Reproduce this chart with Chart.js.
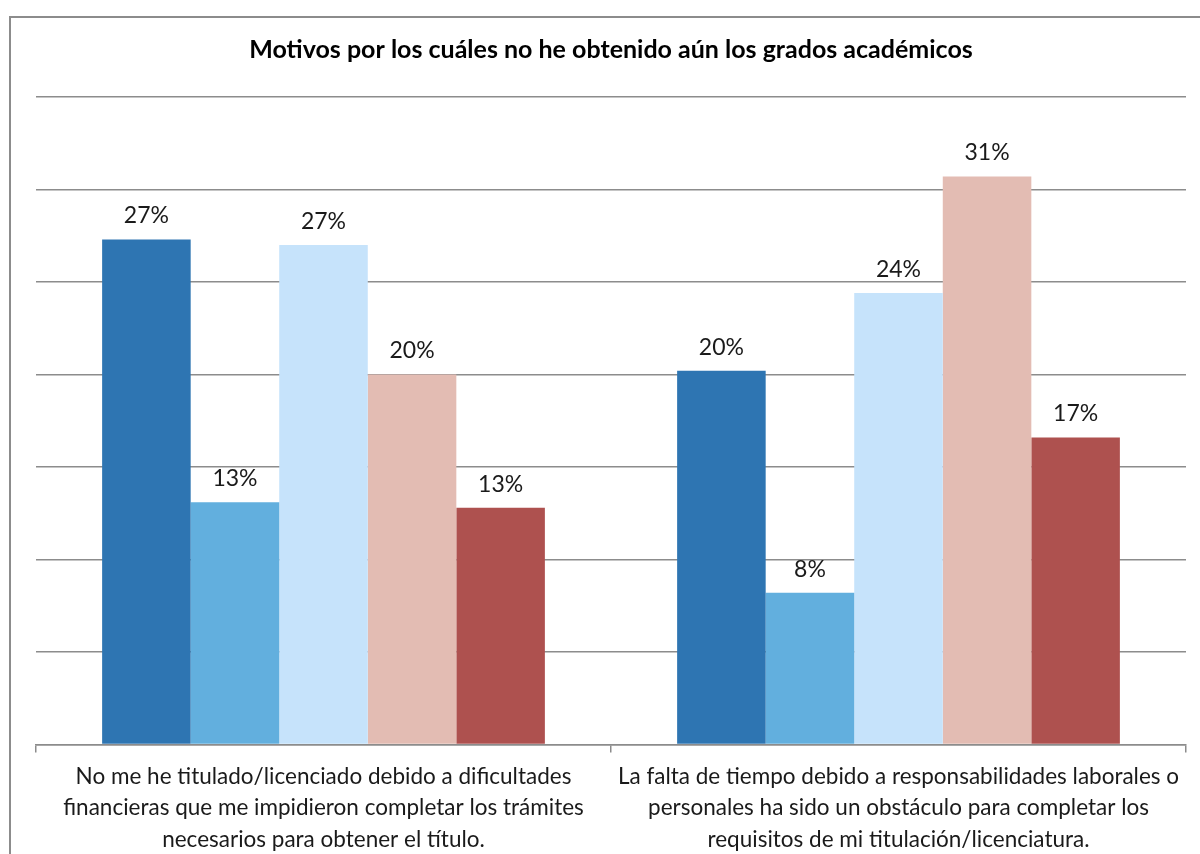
<!DOCTYPE html>
<html lang="es">
<head>
<meta charset="utf-8">
<title>Motivos por los cuáles no he obtenido aún los grados académicos</title>
<script src="https://cdn.jsdelivr.net/npm/chart.js@4/dist/chart.umd.min.js"></script>
<style>
    html, body { margin: 0; padding: 0; background: #fff; }
    #wrap { position: relative; width: 1200px; height: 854px; }
</style>
</head>
<body>
<div id="wrap"><canvas id="motivosChart"></canvas></div>
<script>
// Categories (one line per array entry)
const categories = [
    ['No me he titulado/licenciado debido a dificultades',
     'financieras que me impidieron completar los trámites',
     'necesarios para obtener el título.'],
    ['La falta de tiempo debido a responsabilidades laborales o',
     'personales ha sido un obstáculo para completar los',
     'requisitos de mi titulación/licenciatura.']
];

// Series (percentages)
const seriesNames = ['Serie 1', 'Serie 2', 'Serie 3', 'Serie 4', 'Serie 5'];
const serie1 = [27.3, 20.2];
const serie2 = [13.1, 8.2];
const serie3 = [27.0, 24.4];
const serie4 = [20.0, 30.7];
const serie5 = [12.8, 16.6];
const seriesColors = ['#2E75B2', '#62AFDE', '#C6E3FB', '#E3BCB3', '#AE514F'];

// Axis
const yMax = 35;
const yStep = 5;

const allSeries = [serie1, serie2, serie3, serie4, serie5];

document.addEventListener('DOMContentLoaded', function() {
    // Outer frame of the chart
    const framePlugin = {
        id: 'frame',
        beforeDraw(chart) {
            const ctx = chart.ctx;
            ctx.save();
            ctx.fillStyle = '#ffffff';
            ctx.fillRect(0, 0, chart.width, chart.height);
            ctx.strokeStyle = '#8c8c8c';
            ctx.lineWidth = 2;
            ctx.strokeRect(10, 17, chart.width + 20, chart.height + 20);
            ctx.restore();
        }
    };

    // Percent labels above each bar
    const valueLabels = {
        id: 'valueLabels',
        afterDatasetsDraw(chart) {
            const ctx = chart.ctx;
            ctx.save();
            ctx.font = '23px Lato, "Open Sans", sans-serif';
            ctx.fillStyle = '#1a1a1a';
            ctx.textAlign = 'center';
            ctx.textBaseline = 'bottom';
            chart.data.datasets.forEach((ds, i) => {
                chart.getDatasetMeta(i).data.forEach((bar, j) => {
                    ctx.fillText(Math.round(ds.data[j]) + '%', bar.x, bar.y - 12);
                });
            });
            ctx.restore();
        }
    };

    const ctx = document.getElementById('motivosChart').getContext('2d');
    new Chart(ctx, {
        type: 'bar',
        data: {
            labels: categories,
            datasets: allSeries.map((values, i) => ({
                label: seriesNames[i],
                data: values,
                backgroundColor: seriesColors[i],
                borderWidth: 0,
                barPercentage: 1,
                categoryPercentage: 0.77
            }))
        },
        options: {
            responsive: true,
            maintainAspectRatio: false,
            animation: false,
            layout: {
                padding: { top: 16, left: 36, right: 14, bottom: -9 }
            },
            plugins: {
                legend: { display: false },
                tooltip: { enabled: false },
                title: {
                    display: true,
                    text: 'Motivos por los cuáles no he obtenido aún los grados académicos',
                    color: '#000000',
                    font: { family: 'Lato, "Open Sans", sans-serif', size: 25, weight: 'bold' },
                    padding: { top: 19, bottom: 32 }
                }
            },
            scales: {
                y: {
                    min: 0,
                    max: yMax,
                    ticks: { display: false, stepSize: yStep },
                    border: { display: false },
                    grid: {
                        color: '#8c8c8c',
                        lineWidth: 1.5,
                        drawTicks: false
                    }
                },
                x: {
                    border: { display: true, color: '#8c8c8c', width: 1.5 },
                    grid: {
                        offset: true,
                        drawOnChartArea: false,
                        drawTicks: true,
                        tickLength: 8,
                        color: '#8c8c8c',
                        lineWidth: 1.5
                    },
                    ticks: {
                        color: '#1a1a1a',
                        padding: 8,
                        maxRotation: 0,
                        autoSkip: false,
                        font: { family: 'Lato, "Open Sans", sans-serif', size: 22.5, lineHeight: 1.4 }
                    }
                }
            }
        },
        plugins: [framePlugin, valueLabels]
    });
});
</script>
</body>
</html>
